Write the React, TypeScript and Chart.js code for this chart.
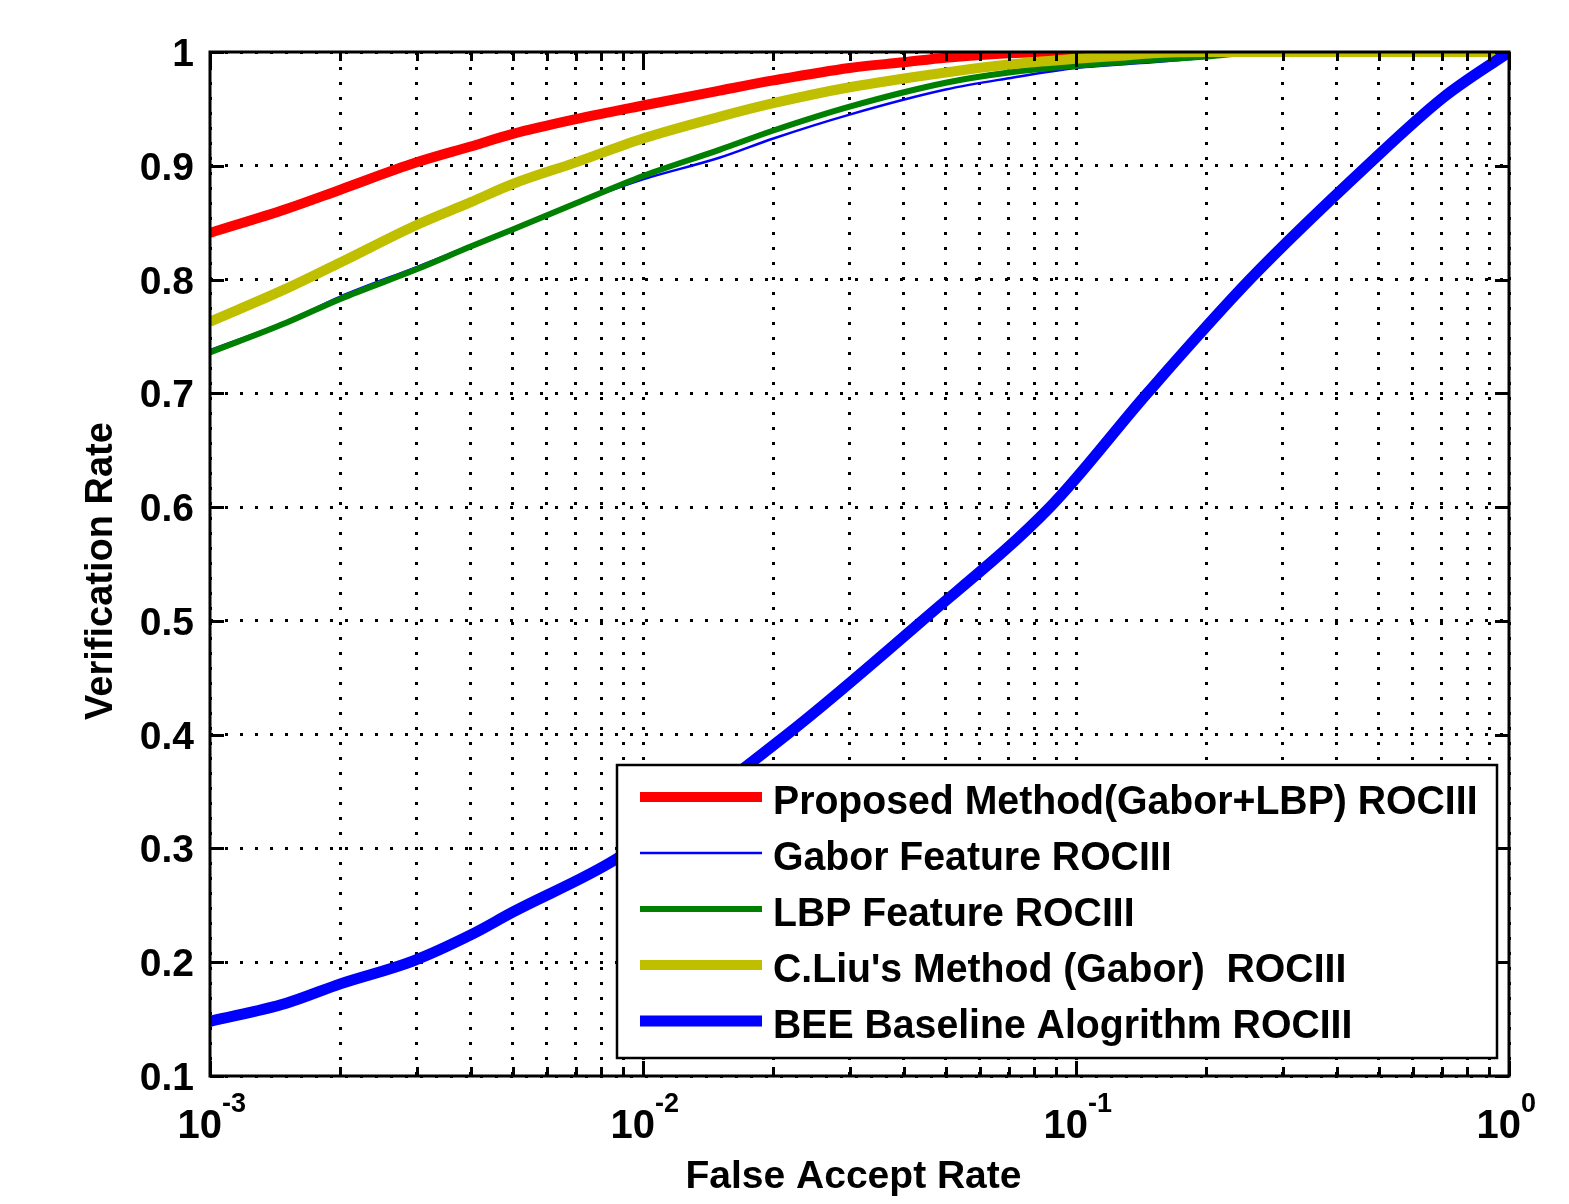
import React, { useEffect, useRef } from "react";
import { Chart, registerables } from "chart.js";

Chart.register(...registerables);

const W = 1569;
const H = 1204;

// ---- data (False Accept Rate -> Verification Rate) ----
const seriesLabels = [
  "Proposed Method(Gabor+LBP) ROCIII",
  "Gabor Feature ROCIII",
  "LBP Feature ROCIII",
  "C.Liu's Method (Gabor)  ROCIII",
  "BEE Baseline Alogrithm ROCIII",
];

const fprProposed = [0.001, 0.0015, 0.002, 0.003, 0.004, 0.005, 0.007, 0.01, 0.015, 0.02, 0.03, 0.04, 0.05, 0.07, 0.1, 1];
const tprProposed = [0.841, 0.862, 0.879, 0.903, 0.917, 0.928, 0.941, 0.953, 0.966, 0.975, 0.986, 0.991, 0.995, 0.999, 1.0, 1.0];

const fprGabor = [0.001, 0.0015, 0.002, 0.003, 0.004, 0.005, 0.007, 0.01, 0.015, 0.02, 0.03, 0.05, 0.07, 0.1, 0.15, 0.2, 0.27, 1];
const tprGabor = [0.738, 0.763, 0.785, 0.811, 0.83, 0.845, 0.867, 0.888, 0.907, 0.924, 0.945, 0.967, 0.977, 0.986, 0.991, 0.995, 1.0, 1.0];

const fprLBP = [0.001, 0.0015, 0.002, 0.003, 0.004, 0.005, 0.007, 0.01, 0.015, 0.02, 0.03, 0.05, 0.07, 0.1, 0.15, 0.2, 0.27, 1];
const tprLBP = [0.736, 0.762, 0.783, 0.809, 0.829, 0.844, 0.867, 0.891, 0.914, 0.931, 0.952, 0.973, 0.982, 0.988, 0.993, 0.996, 1.0, 1.0];

const fprCLiu = [0.001, 0.0015, 0.002, 0.003, 0.004, 0.005, 0.007, 0.01, 0.015, 0.02, 0.03, 0.05, 0.07, 0.1, 0.13, 0.15, 0.2, 1];
const tprCLiu = [0.763, 0.792, 0.815, 0.848, 0.868, 0.884, 0.903, 0.924, 0.943, 0.955, 0.969, 0.982, 0.989, 0.994, 0.997, 0.999, 1.0, 1.0];

const fprBEE = [0.001, 0.0015, 0.002, 0.00294, 0.004, 0.005, 0.0087, 0.0215, 0.0441, 0.0871, 0.146, 0.252, 0.47, 0.705, 1];
const tprBEE = [0.148, 0.164, 0.181, 0.201, 0.224, 0.244, 0.291, 0.4, 0.5, 0.6, 0.7, 0.8, 0.9, 0.96, 1.0];

const xTickValues = [
  0.001, 0.002, 0.003, 0.004, 0.005, 0.006, 0.007, 0.008, 0.009,
  0.01, 0.02, 0.03, 0.04, 0.05, 0.06, 0.07, 0.08, 0.09,
  0.1, 0.2, 0.3, 0.4, 0.5, 0.6, 0.7, 0.8, 0.9, 1,
];
const xMajorValues = [0.001, 0.01, 0.1, 1];
const xMajorExponents = ["-3", "-2", "-1", "0"];
const yTickValues = [0.1, 0.2, 0.3, 0.4, 0.5, 0.6, 0.7, 0.8, 0.9, 1];
const yTickLabels = ["0.1", "0.2", "0.3", "0.4", "0.5", "0.6", "0.7", "0.8", "0.9", "1"];

const xTitle = "False Accept Rate";
const yTitle = "Verification Rate";

const FONT = '"Liberation Sans", Arial, Helvetica, sans-serif';

const toPoints = (xs: number[], ys: number[]) => xs.map((x, i) => ({ x, y: ys[i] }));

const overlayPlugin = {
  id: "matlabOverlay",
  afterDraw(chart: any) {
    const ctx: CanvasRenderingContext2D = chart.ctx;
    const { left, right, top, bottom } = chart.chartArea;
    const xs = chart.scales.x;
    const ys = chart.scales.y;
    ctx.save();
    ctx.strokeStyle = "#000";
    ctx.fillStyle = "#000";
    ctx.lineCap = "butt";

    // inward ticks
    ctx.lineWidth = 3;
    ctx.beginPath();
    for (const v of yTickValues) {
      const y = Math.round(ys.getPixelForValue(v)) + 0.5;
      ctx.moveTo(left, y);
      ctx.lineTo(left + 14, y);
      ctx.moveTo(right, y);
      ctx.lineTo(right - 14, y);
    }
    for (const v of xTickValues) {
      const x = Math.round(xs.getPixelForValue(v)) + 0.5;
      const len = xMajorValues.includes(v) ? 15 : 9;
      ctx.moveTo(x, bottom);
      ctx.lineTo(x, bottom - len);
      ctx.moveTo(x, top);
      ctx.lineTo(x, top + len);
    }
    ctx.stroke();

    // axes box
    ctx.lineWidth = 3;
    ctx.strokeRect(left, top, right - left, bottom - top);

    // y tick labels
    ctx.font = `bold 39px ${FONT}`;
    ctx.textAlign = "right";
    ctx.textBaseline = "alphabetic";
    yTickValues.forEach((v, i) => {
      const y = ys.getPixelForValue(v);
      ctx.fillText(yTickLabels[i], left - 16, y + 14);
    });

    // x tick labels: 10^n
    xMajorValues.forEach((v, i) => {
      const x = xs.getPixelForValue(v);
      ctx.font = `bold 40px ${FONT}`;
      ctx.textAlign = "right";
      ctx.fillText("10", x + 12, bottom + 62);
      ctx.font = `bold 27px ${FONT}`;
      ctx.textAlign = "left";
      ctx.fillText(xMajorExponents[i], x + 12, bottom + 36);
    });

    // axis titles
    ctx.font = `bold 39px ${FONT}`;
    ctx.textAlign = "center";
    ctx.fillText(xTitle, (left + right) / 2 - 6, bottom + 112);
    ctx.save();
    ctx.translate(112, (top + bottom) / 2 + 7);
    ctx.rotate(-Math.PI / 2);
    ctx.font = `bold 38px ${FONT}`;
    ctx.textAlign = "center";
    ctx.fillText(yTitle, 0, 0);
    ctx.restore();

    // legend
    const lx = left + 407;
    const ly = top + 713;
    const lw = 880;
    const lh = 293;
    ctx.fillStyle = "#fff";
    ctx.fillRect(lx, ly, lw, lh);
    ctx.lineWidth = 2.5;
    ctx.strokeStyle = "#000";
    ctx.strokeRect(lx, ly, lw, lh);
    const ds = chart.data.datasets;
    ctx.font = `bold 40px ${FONT}`;
    ctx.textAlign = "left";
    ds.forEach((d: any, i: number) => {
      const rowY = ly + 32 + i * 56;
      ctx.beginPath();
      ctx.strokeStyle = d.borderColor;
      ctx.lineWidth = d.borderWidth;
      ctx.moveTo(lx + 23, rowY);
      ctx.lineTo(lx + 145, rowY);
      ctx.stroke();
      ctx.fillStyle = "#000";
      ctx.save();
      ctx.translate(lx + 156, rowY + 17);
      ctx.scale(0.98, 1);
      ctx.fillText(d.label, 0, 0);
      ctx.restore();
    });

    ctx.restore();
  },
};

export default function App() {
  const canvasRef = useRef<HTMLCanvasElement | null>(null);

  useEffect(() => {
    const canvas = canvasRef.current;
    if (!canvas) return;
    const common = {
      pointRadius: 0,
      fill: false,
      clip: 0,
      cubicInterpolationMode: "monotone" as const,
      borderJoinStyle: "round" as const,
    };
    const chart = new Chart(canvas, {
      type: "line",
      data: {
        datasets: [
          { ...common, label: seriesLabels[0], data: toPoints(fprProposed, tprProposed), borderColor: "#ff0000", backgroundColor: "#ff0000", borderWidth: 10, order: 4 },
          { ...common, label: seriesLabels[1], data: toPoints(fprGabor, tprGabor), borderColor: "#0000ff", backgroundColor: "#0000ff", borderWidth: 2.5, order: 3 },
          { ...common, label: seriesLabels[2], data: toPoints(fprLBP, tprLBP), borderColor: "#008000", backgroundColor: "#008000", borderWidth: 6, order: 2 },
          { ...common, label: seriesLabels[3], data: toPoints(fprCLiu, tprCLiu), borderColor: "#bfbf00", backgroundColor: "#bfbf00", borderWidth: 10, order: 1 },
          { ...common, label: seriesLabels[4], data: toPoints(fprBEE, tprBEE), borderColor: "#0000ff", backgroundColor: "#0000ff", borderWidth: 11, order: 0 },
        ],
      },
      options: {
        responsive: false,
        animation: false,
        events: [],
        layout: { padding: { left: 210, right: 60, top: 52, bottom: 128 } },
        plugins: {
          legend: { display: false },
          tooltip: { enabled: false },
          title: { display: false },
        },
        scales: {
          x: {
            type: "logarithmic",
            min: 0.001,
            max: 1,
            ticks: { display: false },
            grid: { color: "#000", lineWidth: 3, drawTicks: false },
            border: { display: false, dash: [3, 12] },
            afterBuildTicks: (scale: any) => {
              scale.ticks = xTickValues.map((v) => ({ value: v }));
            },
            afterFit: (scale: any) => {
              scale.height = 0;
            },
          },
          y: {
            type: "linear",
            min: 0.1,
            max: 1,
            ticks: { display: false },
            grid: { color: "#000", lineWidth: 3, drawTicks: false },
            border: { display: false, dash: [3, 12] },
            afterBuildTicks: (scale: any) => {
              scale.ticks = yTickValues.map((v) => ({ value: v }));
            },
            afterFit: (scale: any) => {
              scale.width = 0;
            },
          },
        },
      } as any,
      plugins: [overlayPlugin],
    });
    return () => chart.destroy();
  }, []);

  return (
    <div style={{ position: "absolute", left: 0, top: 0, width: W, height: H, background: "#fff" }}>
      <canvas ref={canvasRef} width={W} height={H} style={{ display: "block" }} />
    </div>
  );
}
